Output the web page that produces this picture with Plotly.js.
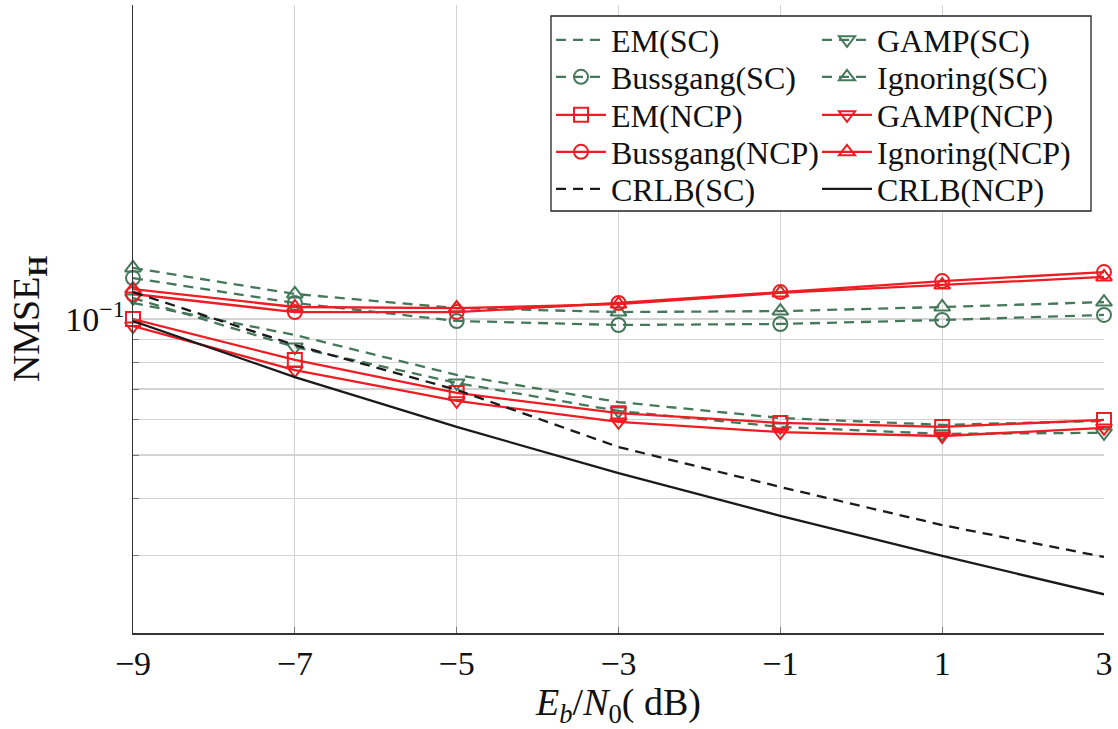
<!DOCTYPE html>
<html>
<head>
<meta charset="utf-8">
<script src="https://cdn.plot.ly/plotly-3.0.1.min.js"></script>
<style>html,body{margin:0;padding:0;background:#fff;}#chart{width:1118px;height:729px;}</style>
</head>
<body>
<div id="chart"></div>
<script>
// ---- data ----
const ebn0 = [-9, -7, -5, -3, -1, 1, 3];

const emSC        = [0.1085, 0.0922, 0.0752, 0.0655, 0.0604, 0.0583, 0.0595];
const gampSC      = [0.1113, 0.0867, 0.0722, 0.0626, 0.0577, 0.0557, 0.0560];
const bussgangSC  = [0.1232, 0.1085, 0.0990, 0.0970, 0.0975, 0.0995, 0.1021];
const ignoringSC  = [0.1297, 0.1136, 0.1057, 0.1036, 0.1041, 0.1063, 0.1090];
const emNCP       = [0.1000, 0.0812, 0.0686, 0.0619, 0.0589, 0.0577, 0.0598];
const gampNCP     = [0.0965, 0.0771, 0.0659, 0.0592, 0.0562, 0.0551, 0.0574];
const bussgangNCP = [0.1136, 0.1036, 0.1036, 0.1085, 0.1147, 0.1213, 0.1270];
const ignoringNCP = [0.1165, 0.1063, 0.1057, 0.1079, 0.1142, 0.1189, 0.1239];
const crlbSC      = [0.1147, 0.0876, 0.0697, 0.0521, 0.0425, 0.0350, 0.02975];
const crlbNCP     = [0.0990, 0.0744, 0.0577, 0.0456, 0.0367, 0.0299, 0.0246];

const xTicks = [-9, -7, -5, -3, -1, 1, 3];
const xTickText = ['\u22129', '\u22127', '\u22125', '\u22123', '\u22121', '1', '3'];
const yTicks = [0.1];
const yTickText = ['10<sup>\u22121</sup>'];
const yMinorTicks = [0.03, 0.04, 0.05, 0.06, 0.07, 0.08, 0.09];

// ---- styles ----
const GREEN = '#45785a';
const RED = '#ee1d23';
const BLACK = '#1a1a1a';
const DASH = '10px,7px';
const FONT = 'Liberation Serif';

function tr(name, y, color, dash, symbol, legend) {
  const t = {
    x: ebn0, y: y, name: name, type: 'scatter',
    mode: symbol ? 'lines+markers' : 'lines',
    line: {color: color, width: 2.3, dash: dash},
    cliponaxis: false,
    legend: legend
  };
  if (symbol) t.marker = {symbol: symbol, size: 14, color: color, line: {color: color, width: 2}};
  return t;
}

const data = [
  tr('EM(SC)', emSC, GREEN, DASH, null, 'legend'),
  tr('GAMP(SC)', gampSC, GREEN, DASH, 'triangle-down-open', 'legend'),
  tr('Bussgang(SC)', bussgangSC, GREEN, DASH, 'circle-open', 'legend2'),
  tr('Ignoring(SC)', ignoringSC, GREEN, DASH, 'triangle-up-open', 'legend2'),
  tr('EM(NCP)', emNCP, RED, 'solid', 'square-open', 'legend3'),
  tr('GAMP(NCP)', gampNCP, RED, 'solid', 'triangle-down-open', 'legend3'),
  tr('Bussgang(NCP)', bussgangNCP, RED, 'solid', 'circle-open', 'legend4'),
  tr('Ignoring(NCP)', ignoringNCP, RED, 'solid', 'triangle-up-open', 'legend4'),
  tr('CRLB(SC)', crlbSC, BLACK, DASH, null, 'legend5'),
  tr('CRLB(NCP)', crlbNCP, BLACK, 'solid', null, 'legend5')
];

const PL = 133, PR = 1104, PT = 5, PB = 633;
const W = PR - PL, H = PB - PT;
const px = v => (v - PL) / W;
const py = v => (PB - v) / H;

function leg(yc) {
  return {
    orientation: 'h', x: px(551), xanchor: 'left', y: py(yc), yanchor: 'middle',
    entrywidth: 201, entrywidthmode: 'pixels', itemwidth: 50,
    bgcolor: 'rgba(0,0,0,0)', borderwidth: 0,
    font: {family: FONT, size: 32, color: '#111'},
    traceorder: 'normal', itemclick: false, itemdoubleclick: false
  };
}

const layout = {
  width: 1118, height: 729,
  margin: {l: PL, r: 1118 - PR, t: PT, b: 729 - PB, autoexpand: false},
  paper_bgcolor: '#fff', plot_bgcolor: '#fff',
  font: {family: FONT, size: 32, color: '#111'},
  showlegend: true,
  legend: leg(40), legend2: leg(77), legend3: leg(115), legend4: leg(152), legend5: leg(189),
  xaxis: {
    range: [-9, 3], tickvals: xTicks, ticktext: xTickText,
    showgrid: true, gridcolor: '#d3d3d3', gridwidth: 1.2,
    showline: true, linecolor: '#333', linewidth: 1.5,
    ticks: 'inside', ticklen: 6, tickcolor: '#777',
    zeroline: false, tickfont: {family: FONT, size: 34},
    title: {text: '<i>E</i><sub><i>b</i></sub>/<i>N</i><sub>0</sub>( dB)', font: {family: FONT, size: 38}, standoff: 10}
  },
  yaxis: {
    type: 'log', range: [-1.6947, -0.3053], tickvals: yTicks, ticktext: yTickText,
    showgrid: true, gridcolor: '#d3d3d3', gridwidth: 1.2,
    showline: true, linecolor: '#333', linewidth: 1.5,
    ticks: 'inside', ticklen: 6, tickcolor: '#777',
    minor: {tickmode: 'array', tickvals: yMinorTicks, showgrid: true, gridcolor: '#d3d3d3', gridwidth: 1.2,
            ticks: 'inside', ticklen: 6, tickcolor: '#777'},
    zeroline: false, tickfont: {family: FONT, size: 34},
    title: {text: 'NMSE<sub><b>H</b></sub>', font: {family: FONT, size: 38}, standoff: 14}
  },
  shapes: [{
    type: 'rect', xref: 'paper', yref: 'paper',
    x0: px(551), x1: px(1091), y0: py(211), y1: py(16),
    line: {color: '#222', width: 1.3}, fillcolor: '#fff', layer: 'above'
  }]
};

Plotly.newPlot('chart', data, layout, {displayModeBar: false, staticPlot: true});
</script>
</body>
</html>
